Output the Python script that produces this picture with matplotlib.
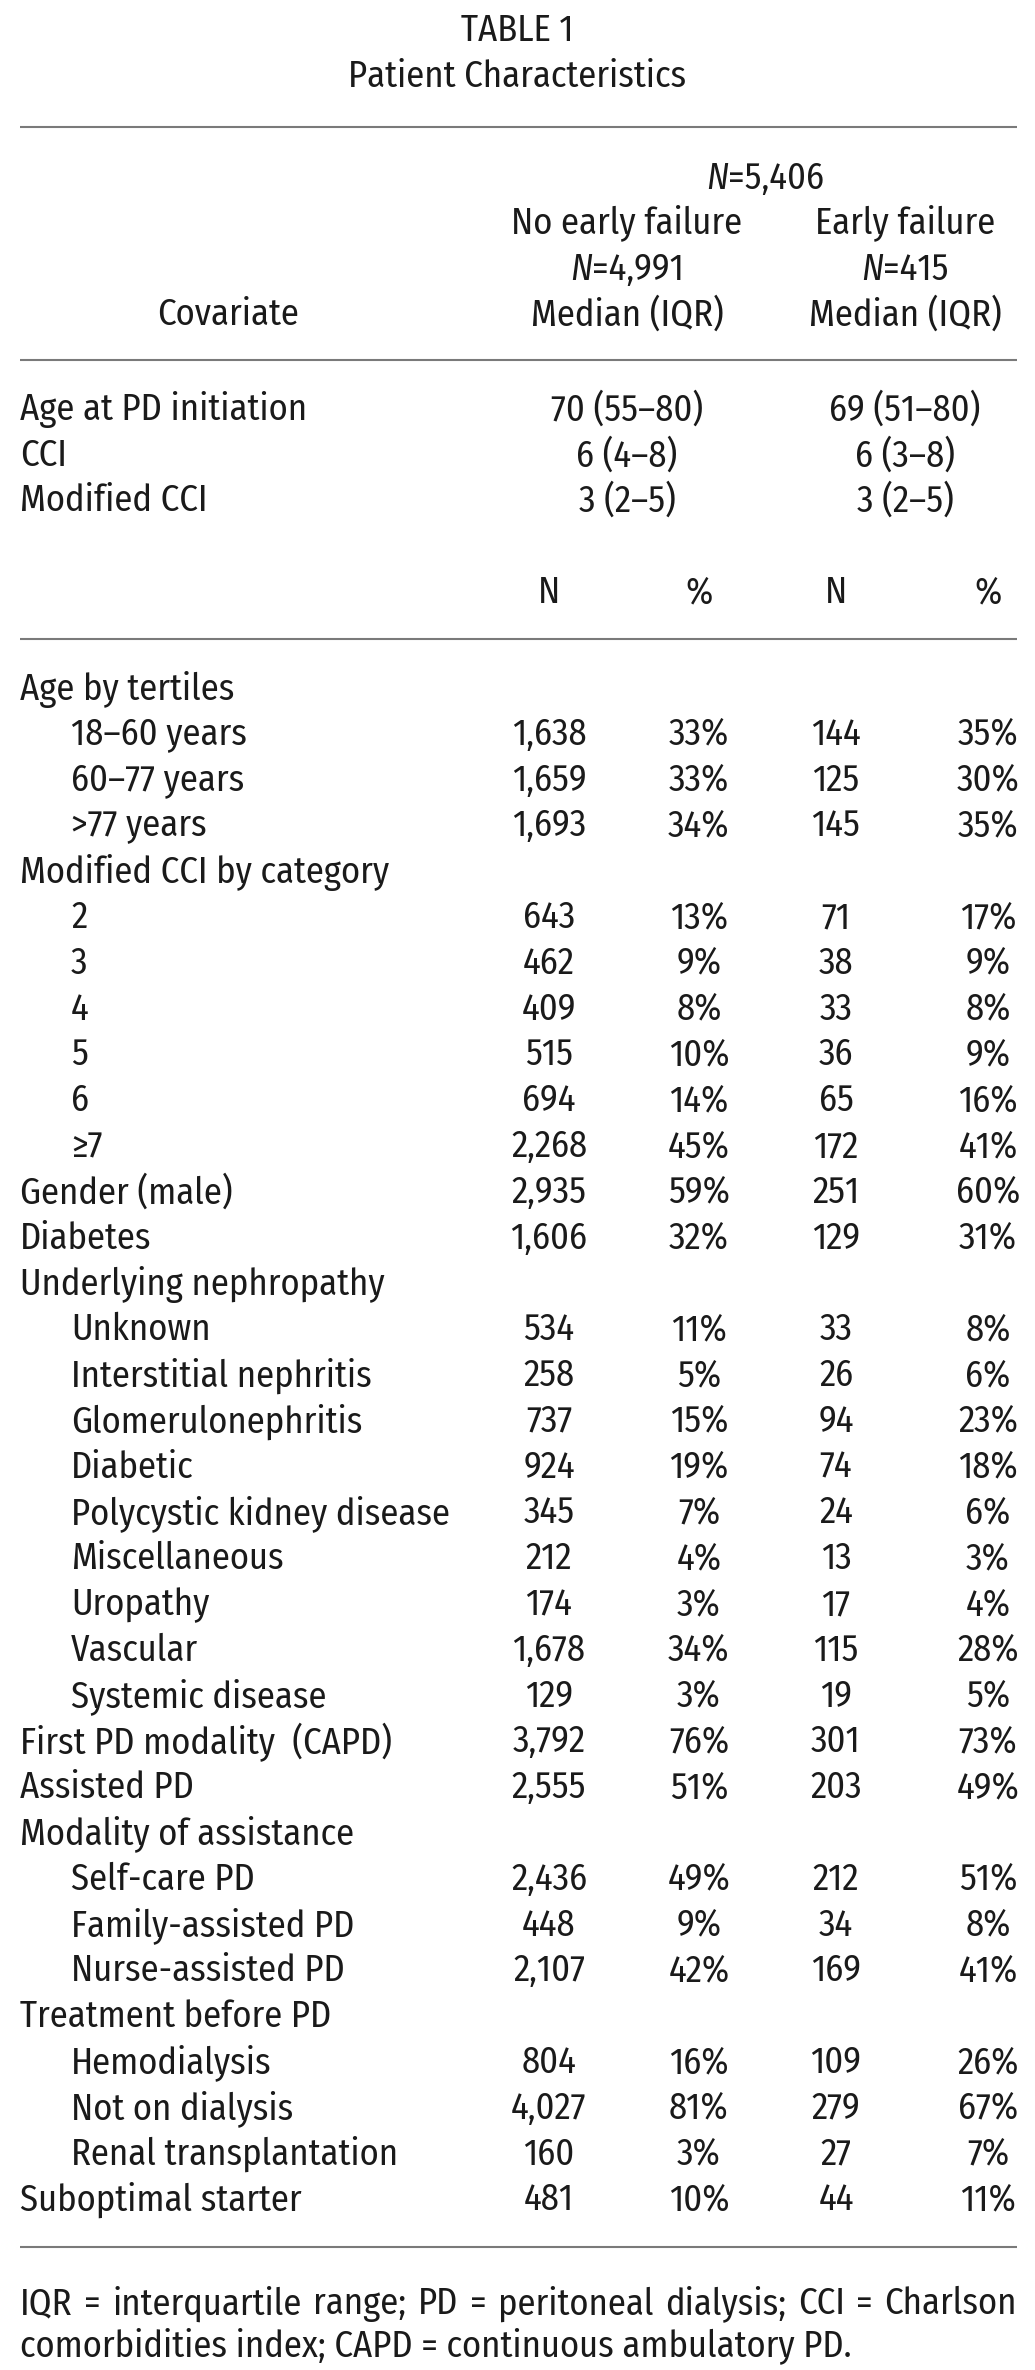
import matplotlib
matplotlib.use("Agg")
from matplotlib import pyplot as plt

plt.rcParams['font.family'] = ['Fira Sans Condensed', 'DejaVu Sans']

# summary rows (median, IQR)
median_labels = ["Age at PD initiation", "CCI", "Modified CCI"]
median_nofail = ["70 (55\u201380)", "6 (4\u20138)", "3 (2\u20135)"]
median_fail = ["69 (51\u201380)", "6 (3\u20138)", "3 (2\u20135)"]

# categorical rows: label, indented?
labels = ["Age by tertiles", "18\u201360 years", "60\u201377 years", ">77 years",
          "Modified CCI by category", "2", "3", "4", "5", "6", "\u22657",
          "Gender (male)", "Diabetes", "Underlying nephropathy", "Unknown",
          "Interstitial nephritis", "Glomerulonephritis", "Diabetic",
          "Polycystic kidney disease", "Miscellaneous", "Uropathy", "Vascular",
          "Systemic disease", "First PD modality  (CAPD)", "Assisted PD",
          "Modality of assistance", "Self-care PD", "Family-assisted PD",
          "Nurse-assisted PD", "Treatment before PD", "Hemodialysis",
          "Not on dialysis", "Renal transplantation", "Suboptimal starter"]
indent = [0, 1, 1, 1, 0, 1, 1, 1, 1, 1, 1, 0, 0, 0, 1, 1, 1, 1, 1, 1, 1, 1, 1,
          0, 0, 0, 1, 1, 1, 0, 1, 1, 1, 0]
n_nofail = ["", "1,638", "1,659", "1,693", "", "643", "462", "409", "515", "694",
            "2,268", "2,935", "1,606", "", "534", "258", "737", "924", "345", "212",
            "174", "1,678", "129", "3,792", "2,555", "", "2,436", "448", "2,107",
            "", "804", "4,027", "160", "481"]
pct_nofail = ["", "33%", "33%", "34%", "", "13%", "9%", "8%", "10%", "14%", "45%",
              "59%", "32%", "", "11%", "5%", "15%", "19%", "7%", "4%", "3%", "34%",
              "3%", "76%", "51%", "", "49%", "9%", "42%", "", "16%", "81%", "3%", "10%"]
n_fail = ["", "144", "125", "145", "", "71", "38", "33", "36", "65", "172", "251",
          "129", "", "33", "26", "94", "74", "24", "13", "17", "115", "19", "301",
          "203", "", "212", "34", "169", "", "109", "279", "27", "44"]
pct_fail = ["", "35%", "30%", "35%", "", "17%", "9%", "8%", "9%", "16%", "41%",
            "60%", "31%", "", "8%", "6%", "23%", "18%", "6%", "3%", "4%", "28%",
            "5%", "73%", "49%", "", "51%", "8%", "41%", "", "26%", "67%", "7%", "11%"]

footnote1 = "IQR = interquartile range; PD = peritoneal dialysis; CCI = Charlson"
footnote2 = "comorbidities index; CAPD = continuous ambulatory PD."

FS = 26.3
W, H = 1035, 2370
fig = plt.figure(figsize=(W / 100, H / 100), dpi=100)
ax = fig.add_axes([0, 0, 1, 1])
ax.set_xlim(0, W)
ax.set_ylim(H, 0)
ax.axis("off")
fig.canvas.draw()
renderer = fig.canvas.get_renderer()


def txt(x, y, s, ha="left", style="normal"):
    return ax.text(x, y, s, ha=ha, va="center_baseline", fontsize=FS, style=style,
                   color="#1a1a1a")


def width(t):
    return t.get_window_extent(renderer).width


def mixed(xc, y, pieces):
    # pieces of (text, style) centred as a whole on xc
    objs = [txt(0, y, s, style=st) for s, st in pieces]
    ws = [width(o) for o in objs]
    x = xc - sum(ws) / 2
    for o, w in zip(objs, ws):
        o.set_x(x)
        x += w


def rule(y):
    ax.plot([20, 1017], [y, y], color="#7a7a7a", lw=1.5, solid_capstyle="butt")


LEFT, IND = 20, 71
C_MED1, C_MED2 = 627, 905
C_N1, C_P1, C_N2, C_P2 = 549, 699, 836, 988

txt(W / 2, 27, "TABLE 1", ha="center")
txt(W / 2, 73, "Patient Characteristics", ha="center")
rule(127)
mixed(765, 175, [("N", "italic"), ("=5,406", "normal")])
txt(C_MED1, 219, "No early failure", ha="center")
txt(C_MED2, 219, "Early failure", ha="center")
mixed(C_MED1, 266, [("N", "italic"), ("=4,991", "normal")])
mixed(C_MED2, 266, [("N", "italic"), ("=415", "normal")])
txt(228, 311, "Covariate", ha="center")
txt(C_MED1, 311, "Median (IQR)", ha="center")
txt(C_MED2, 311, "Median (IQR)", ha="center")
rule(360)

for i, lab in enumerate(median_labels):
    y = 406 + i * 45.6
    txt(LEFT, y, lab)
    txt(C_MED1, y, median_nofail[i], ha="center")
    txt(C_MED2, y, median_fail[i], ha="center")

for x, s in zip([C_N1, C_P1, C_N2, C_P2], ["N", "%", "N", "%"]):
    txt(x, 589, s, ha="center")
rule(639)

step = 45.8
for i, lab in enumerate(labels):
    y = 685 + i * step
    txt(IND if indent[i] else LEFT, y, lab)
    txt(C_N1, y, n_nofail[i], ha="center")
    txt(C_P1, y, pct_nofail[i], ha="center")
    txt(C_N2, y, n_fail[i], ha="center")
    txt(C_P2, y, pct_fail[i], ha="center")
rule(2247)

# justified first footnote line
words = footnote1.split(" ")
objs = [txt(0, 2300, w) for w in words]
ws = [width(o) for o in objs]
gap = (1017 - LEFT - sum(ws)) / (len(words) - 1)
x = LEFT
for o, w in zip(objs, ws):
    o.set_x(x)
    x += w + gap
txt(LEFT, 2342, footnote2)

fig.savefig("out.png", dpi=100, facecolor="white")
